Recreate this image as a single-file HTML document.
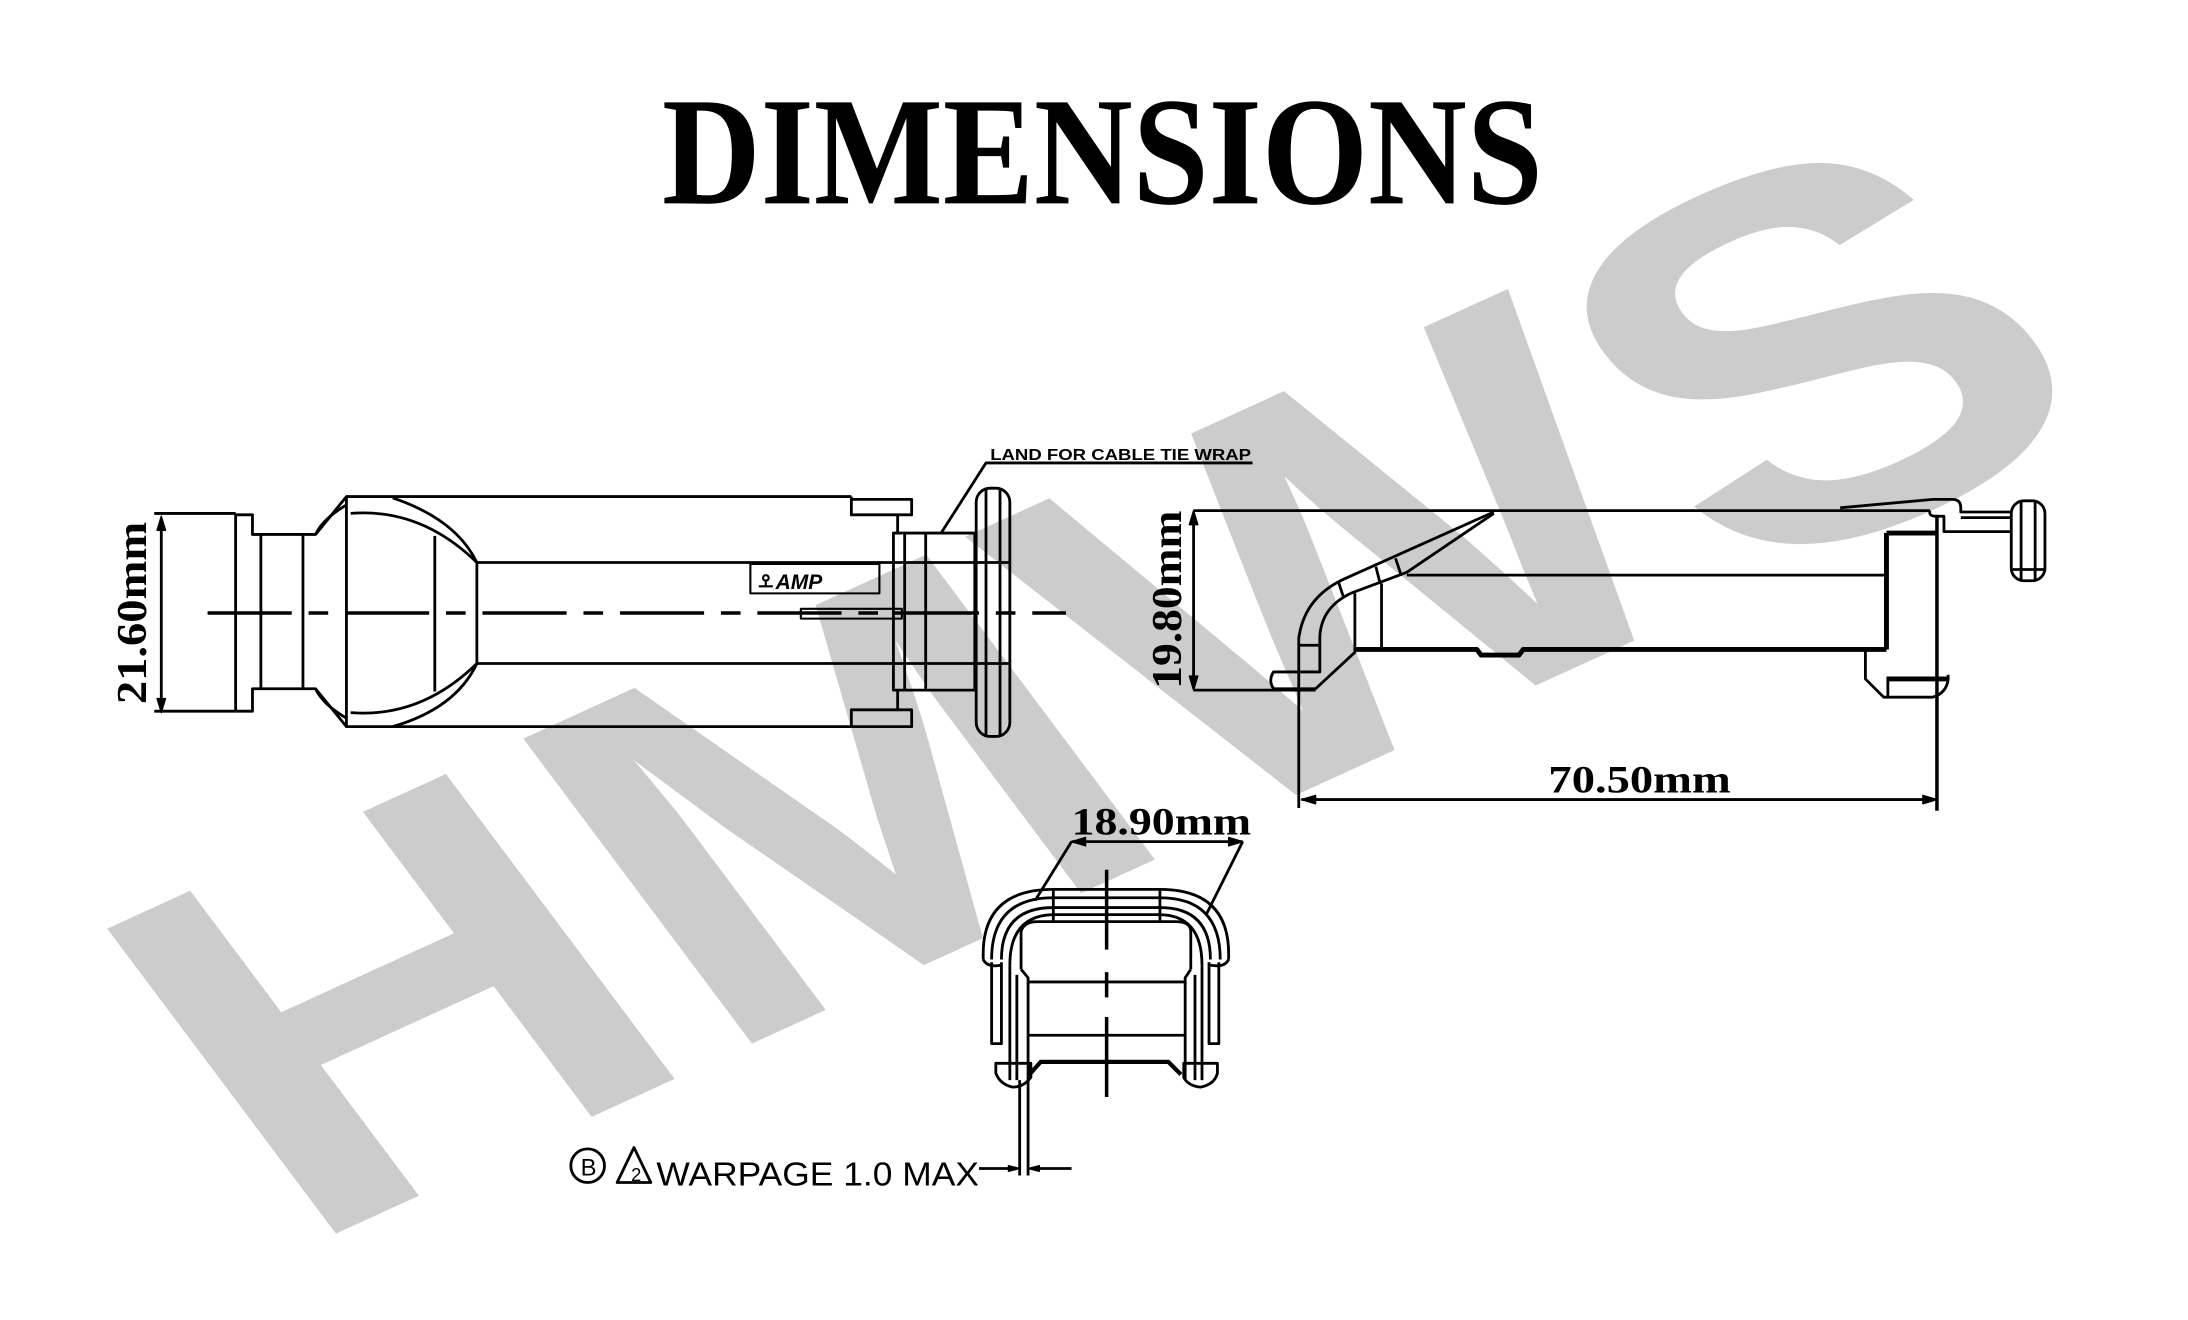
<!DOCTYPE html>
<html><head><meta charset="utf-8"><style>
html,body{margin:0;padding:0;background:#fff;}
svg{display:block;}
</style></head><body>
<svg width="2188" height="1320" viewBox="0 0 1560 941" preserveAspectRatio="none" xmlns="http://www.w3.org/2000/svg">
<rect width="1560" height="941" fill="#fff"/>
<!-- watermark -->
<text transform="matrix(1.04,-0.475,0.6,0.8,212,892)" font-family="Liberation Sans, Arial, sans-serif" font-weight="bold" font-size="395" fill="#cccccc">HMWS</text>

<!-- title -->
<text x="472" y="145" font-family="Liberation Serif, serif" font-weight="bold" font-size="110" textLength="628" lengthAdjust="spacingAndGlyphs" fill="#000">DIMENSIONS</text>

<g fill="none" stroke="#000" stroke-width="2" stroke-linejoin="round">
<!-- ===== LEFT VIEW ===== -->
<line x1="115" y1="370" x2="115" y2="506"/>
<path d="M115 368 l-3 10 h6z M115 508 l-3 -10 h6z" fill="#000" stroke-width="1"/>
<line x1="110" y1="366" x2="168" y2="366"/>
<line x1="110" y1="507" x2="168" y2="507"/>
<line x1="168" y1="366" x2="168" y2="507"/>
<path d="M168 367 H180 V381 H225 L247 354 H607 M168 507 H180 V491 H225 L247 518 H607"/>
<line x1="186" y1="381" x2="186" y2="491"/>
<line x1="216" y1="381" x2="216" y2="491"/>
<path d="M225 381 Q230 370 247 360 M225 491 Q230 502 247 512"/>
<path d="M247 354 V518"/>
<path d="M280 355 Q325 370 340 401 M280 518 Q325 505 340 473"/>
<path d="M250 366 Q300 362 340 401 M250 508 Q300 512 340 473"/>
<path d="M310 382 V493"/>
<line x1="340" y1="401" x2="340" y2="473"/>
<line x1="340" y1="401" x2="720" y2="401"/>
<line x1="340" y1="473" x2="720" y2="473"/>
<!-- right end notch -->
<path d="M607 354 V367 H650 V356 H607 M607 518 V506 H650 V518 H607"/>
<path d="M640 367 V380 M640 506 V492"/>
<rect x="637" y="380" width="58" height="112"/>
<line x1="645" y1="380" x2="645" y2="492"/>
<line x1="660" y1="380" x2="660" y2="492"/>
<!-- flange -->
<rect x="696" y="348" width="24" height="177" rx="10"/>
<line x1="703" y1="349" x2="703" y2="524"/>
<line x1="713" y1="349" x2="713" y2="524"/>
<!-- AMP box -->
<rect x="535" y="402" width="92" height="21" stroke-width="1.5"/>
<text x="553" y="420" font-family="Liberation Sans, sans-serif" font-weight="bold" font-style="italic" font-size="15" fill="#000" stroke="none">AMP</text>
<path d="M541 418 h10 M546 418 v-5 M546 410 a2 2 0 1 0 0.1 0" stroke-width="1.5"/>
<!-- pin -->
<rect x="571" y="434" width="72" height="7" stroke-width="1.5"/>
<!-- centerline -->
<line x1="148" y1="437" x2="760" y2="437" stroke-dasharray="60,12,14,12" stroke-width="2.5"/>
<!-- leader -->
<polyline points="671,380 703,330 893,330" stroke-width="2"/>

<!-- ===== RIGHT VIEW ===== -->
<line x1="851" y1="366" x2="851" y2="490"/>
<path d="M851 364 l-3 10 h6z M851 492 l-3 -10 h6z" fill="#000" stroke-width="1"/>
<line x1="851" y1="364" x2="1376" y2="364"/>
<line x1="851" y1="492" x2="938" y2="492"/>
<!-- hook -->
<path d="M1065 365 L960 412 Q930 425 926 455 V492"/>
<path d="M963 423 Q942 433 941 454 V479 H908 Q904 485 908 491 H938 L966 465 V423"/>
<line x1="926" y1="460" x2="940" y2="460"/>
<path d="M963 423 L1003 408 L1065 366"/>
<path d="M954 414 L958 426 M981 404 L984 416 M995 398 L999 410"/>
<line x1="985" y1="416" x2="985" y2="462"/>
<line x1="1003" y1="410" x2="1345" y2="410"/>
<path d="M966 463 H1053 L1056 467 H1083 L1086 463 H1345" stroke-width="3.5"/>
<!-- right structure -->
<path d="M1345 380 H1381 M1345 380 V463" stroke-width="3.5"/>
<line x1="1381" y1="367" x2="1381" y2="578" stroke-width="2.5"/>
<path d="M1330 463 V484 L1343 497 H1378 Q1388 494 1389 484 V481"/>
<line x1="1345" y1="484" x2="1389" y2="484" stroke-width="3.5"/>
<line x1="1346" y1="484" x2="1346" y2="497"/>
<path d="M1312 362 L1378 356 H1392 Q1398 356 1398 362 V365 H1434"/>
<path d="M1376 364 Q1375 368 1380 368 H1386 V379 H1434 M1398 369 H1434" />
<rect x="1434" y="357" width="24" height="57" rx="9"/>
<line x1="1441" y1="358" x2="1441" y2="413"/>
<line x1="1451" y1="358" x2="1451" y2="413"/>
<line x1="1435" y1="406" x2="1457" y2="406"/>
<!-- 70.50 dim -->
<line x1="926" y1="492" x2="926" y2="576"/>
<line x1="928" y1="570" x2="1380" y2="570"/>
<path d="M928 570 l10 -3 v6z M1381 570 l-10 -3 v6z" fill="#000" stroke-width="1"/>

<!-- ===== BOTTOM VIEW ===== -->
<line x1="764" y1="600" x2="886" y2="600"/>
<path d="M764 600 l10 -3 v6z M886 600 l-10 -3 v6z" fill="#000" stroke-width="1"/>
<line x1="764" y1="600" x2="738" y2="642"/>
<line x1="886" y1="600" x2="860" y2="652"/>
<path d="M701 684 V680 Q701 634 751 634 H827 Q876 634 876 680 V684"/>
<path d="M707 684 Q707 640 751 640 H827 Q870 640 870 684"/>
<path d="M714 684 Q714 647 751 647 H827 Q863 647 863 684"/>
<path d="M720 688 Q720 652 752 652 H826 Q857 652 857 688"/>
<path d="M701 684 Q704 690 714 688 M876 684 Q873 690 863 688"/>
<path d="M728 691 V664 Q730 657 740 657 H838 Q849 657 849 664 V691"/>
<line x1="751" y1="634" x2="751" y2="657"/>
<line x1="827" y1="634" x2="827" y2="657"/>
<path d="M707 686 V744 H714 V686 M869 686 V744 H862 V686"/>
<path d="M720 688 V770 M725 695 V770 M857 688 V770 M852 695 V770"/>
<path d="M728 691 L733 697 V770 M849 691 L845 697 V770"/>
<line x1="733" y1="700" x2="846" y2="700"/>
<line x1="733" y1="738" x2="846" y2="738"/>
<path d="M734 766 L742 757 H833 L842 766" stroke-width="3"/>
<path d="M710 758 H735 V768 Q730 775 722 775 Q713 773 710 765Z M844 758 H868 V765 Q866 773 856 775 Q847 774 844 768Z"/>
<line x1="789" y1="620" x2="789" y2="677" stroke-width="2.5"/>
<line x1="789" y1="693" x2="789" y2="711" stroke-width="2.5"/>
<line x1="789" y1="725" x2="789" y2="782" stroke-width="2.5"/>
<!-- warpage -->
<line x1="727" y1="770" x2="727" y2="838"/>
<line x1="733" y1="770" x2="733" y2="838"/>
<line x1="698" y1="833" x2="724" y2="833"/>
<line x1="736" y1="833" x2="764" y2="833"/>
<path d="M727 833 l-8 -2 v4z M733 833 l8 -2 v4z" fill="#000" stroke-width="1"/>
<circle cx="419" cy="831" r="12" stroke-width="2"/>
<path d="M440 843 L452 818 L464 843Z" stroke-width="2"/>
</g>

<!-- labels -->
<g font-family="Liberation Serif, serif" font-weight="bold" fill="#000">
<text transform="translate(104,502) rotate(-90)" font-size="30" textLength="130" lengthAdjust="spacingAndGlyphs">21.60mm</text>
<text transform="translate(842,491) rotate(-90)" font-size="30" textLength="127" lengthAdjust="spacingAndGlyphs">19.80mm</text>
<text x="1104" y="565" font-size="28" textLength="130" lengthAdjust="spacingAndGlyphs">70.50mm</text>
<text x="764" y="595" font-size="28" textLength="128" lengthAdjust="spacingAndGlyphs">18.90mm</text>
</g>
<g font-family="Liberation Sans, sans-serif" fill="#000">
<text x="706" y="328" font-size="11" font-weight="bold" textLength="186" lengthAdjust="spacingAndGlyphs">LAND FOR CABLE TIE WRAP</text>
<text x="414" y="838" font-size="17">B</text>
<text x="450" y="842" font-size="13">2</text>
<text x="468" y="845" font-size="24" textLength="230" lengthAdjust="spacingAndGlyphs">WARPAGE 1.0 MAX</text>
</g>
</svg>
</body></html>
